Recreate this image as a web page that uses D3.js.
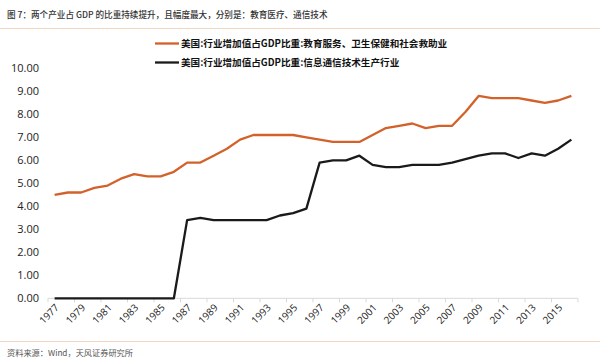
<!DOCTYPE html>
<html><head><meta charset="utf-8">
<script src="https://cdn.jsdelivr.net/npm/d3@7"></script>
<style>
html,body{margin:0;padding:0;background:#fff;}
svg{display:block;font-family:"Noto Sans CJK SC","Microsoft YaHei",sans-serif;}
</style></head>
<body>
<svg id="chart" width="600" height="363"></svg>
<script>
const years = d3.range(1977, 2017);
const tickLabels = years.filter((y, i) => i % 2 === 0).map(String);
const seriesNames = [
  "美国:行业增加值占GDP比重:教育服务、卫生保健和社会救助业",
  "美国:行业增加值占GDP比重:信息通信技术生产行业"
];
const eduHealth = [4.5,4.6,4.6,4.8,4.9,5.2,5.4,5.3,5.3,5.5,5.9,5.9,6.2,6.5,6.9,7.1,7.1,7.1,7.1,7.0,
                   6.9,6.8,6.8,6.8,7.1,7.4,7.5,7.6,7.4,7.5,7.5,8.1,8.8,8.7,8.7,8.7,8.6,8.5,8.6,8.8];
const ictProd = [0,0,0,0,0,0,0,0,0,0,3.4,3.5,3.4,3.4,3.4,3.4,3.4,3.6,3.7,3.9,
                 5.9,6.0,6.0,6.2,5.8,5.7,5.7,5.8,5.8,5.8,5.9,6.05,6.2,6.3,6.3,6.1,6.3,6.2,6.5,6.9];
const yTicks = [0,1,2,3,4,5,6,7,8,9,10];
const colors = ["#d2612a", "#1a1a1a"];
const titleText = "图 7：两个产业占 GDP 的比重持续提升，且幅度最大，分别是：教育医疗、通信技术";
const sourceText = "资料来源：Wind，天风证券研究所";

const svg = d3.select("#chart");
const mLeft = 48, mRight = 578, mTop = 68.3, mBottom = 298.3;

const x = d3.scaleBand().domain(years).range([mLeft, mRight]);
const y = d3.scaleLinear().domain([0, 10]).range([mBottom, mTop]);

// title & rules
svg.append("text").attr("x", 7).attr("y", 17.5).attr("font-size", 8.6).attr("font-weight", 500)
  .attr("fill", "#333").text(titleText);
svg.append("line").attr("x1", 0).attr("x2", 600).attr("y1", 28.5).attr("y2", 28.5)
  .attr("stroke", "#f2d6c0").attr("stroke-width", 1.2);
svg.append("line").attr("x1", 0).attr("x2", 600).attr("y1", 341.5).attr("y2", 341.5)
  .attr("stroke", "#f2d6c0").attr("stroke-width", 1.2);
svg.append("text").attr("x", 7).attr("y", 356).attr("font-size", 8.2).attr("fill", "#555")
  .text(sourceText);

// y axis labels
yTicks.forEach(t => {
  svg.append("text").attr("x", 39).attr("y", y(t)).attr("dy", "0.36em")
    .attr("text-anchor", "end").attr("font-size", 11).attr("fill", "#222")
    .attr("font-family", "'Open Sans','Noto Sans',sans-serif")
    .text(t.toFixed(2));
});

// x axis
const xAxisG = svg.append("g");
xAxisG.append("line").attr("x1", mLeft).attr("x2", mRight).attr("y1", mBottom).attr("y2", mBottom)
  .attr("stroke", "#d9d9d9").attr("stroke-width", 1);
years.forEach((yr, i) => {
  if (i % 2 === 0) {
    const bx = x(yr);
    xAxisG.append("line").attr("x1", bx).attr("x2", bx).attr("y1", mBottom).attr("y2", mBottom + 4)
      .attr("stroke", "#d9d9d9");
  }
});
xAxisG.append("line").attr("x1", mRight).attr("x2", mRight).attr("y1", mBottom).attr("y2", mBottom + 4)
  .attr("stroke", "#d9d9d9");
tickLabels.forEach(lbl => {
  const cx = x(+lbl) + x.bandwidth() / 2;
  svg.append("text")
    .attr("transform", `translate(${cx + 5},${mBottom + 10}) rotate(-45)`)
    .attr("text-anchor", "end").attr("font-size", 10).attr("fill", "#222")
    .attr("font-family", "'Open Sans','Noto Sans',sans-serif")
    .text(lbl);
});

// lines
const line = d3.line()
  .x((d, i) => x(years[i]) + x.bandwidth() / 2)
  .y(d => y(d));
[eduHealth, ictProd].forEach((s, k) => {
  svg.append("path").datum(s).attr("d", line).attr("fill", "none")
    .attr("stroke", colors[k]).attr("stroke-width", 2.3).attr("stroke-linejoin", "round");
});

// legend
seriesNames.forEach((name, k) => {
  const ly = k === 0 ? 43.5 : 62.5;
  svg.append("line").attr("x1", 155).attr("x2", 179).attr("y1", ly).attr("y2", ly)
    .attr("stroke", colors[k]).attr("stroke-width", 2.3);
  svg.append("text").attr("x", 181).attr("y", ly).attr("dy", "0.36em")
    .attr("font-size", 9.6).attr("font-weight", "bold").attr("fill", "#111")
    .text(name);
});
</script>
</body></html>
